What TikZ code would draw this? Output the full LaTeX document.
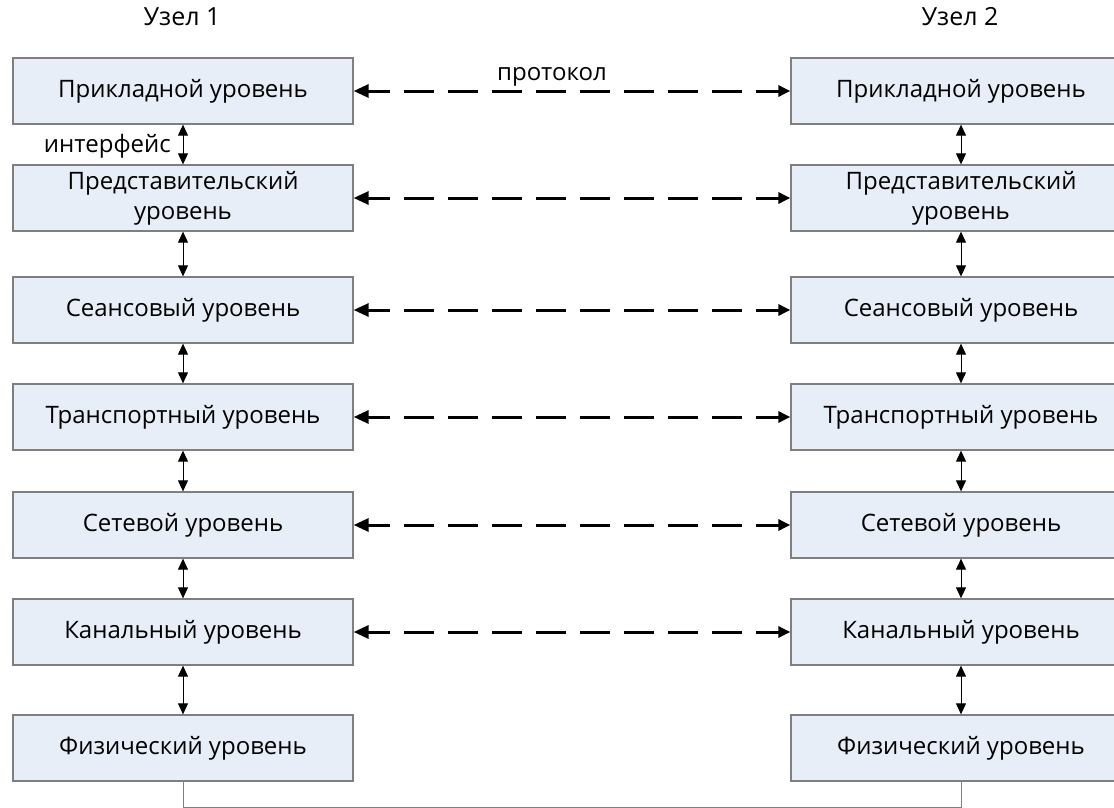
\documentclass[tikz,border=0pt]{standalone}
\usepackage{fontspec}
\setmainfont{Open Sans}
\usetikzlibrary{arrows.meta}
\definecolor{layerfill}{HTML}{E8EEF7}
\definecolor{layerdraw}{HTML}{7F7F7F}
\tikzset{
  layer/.style={draw=layerdraw, line width=1.3pt, fill=layerfill,
    minimum width=340pt, minimum height=66pt, inner sep=2pt,
    align=center, font=\fontsize{24}{30}\selectfont},
  iface/.style={line width=1pt, {Triangle[length=11pt,width=10pt]}-{Triangle[length=11pt,width=10pt]}},
  proto/.style={line width=3pt, dash pattern=on 30pt off 14pt, dash phase=8pt,
    {Triangle[length=15pt,width=13pt]}-{Triangle[length=12pt,width=11pt]}},
  lbl/.style={font=\fontsize{24}{28}\selectfont, inner sep=1pt},
  head/.style={font=\fontsize{25}{28}\selectfont, inner sep=1pt},
  wire/.style={line width=1pt, draw=layerdraw}
}
\begin{document}
\begin{tikzpicture}[x=1pt, y=-1pt]
\useasboundingbox (0,0) rectangle (1114,808);
\fill[white] (0,0) rectangle (1114,808);

\node[head] (h1) at (182,17) {Узел 1};
\node[head] (h2) at (960,17) {Узел 2};

% two stacks of seven layers
\foreach \i/\y/\t in {1/91/Прикладной уровень,
                      2/198/Представительский\\уровень,
                      3/310/Сеансовый уровень,
                      4/417/Транспортный уровень,
                      5/525/Сетевой уровень,
                      6/632/Канальный уровень,
                      7/748/Физический уровень}{
  \node[layer] (L\i) at (183,\y) {\t};
  \node[layer] (R\i) at (961,\y) {\t};
}

% interfaces between adjacent layers
\foreach \i [evaluate=\i as \j using int(\i+1)] in {1,...,6}{
  \draw[iface] (L\i.south) -- (L\j.north);
  \draw[iface] (R\i.south) -- (R\j.north);
}

% peer-to-peer protocols
\foreach \i in {1,...,6}{
  \draw[proto] (L\i.east) -- (R\i.west);
}

\node[lbl, anchor=south] (pl) at (552,87) {протокол};
\node[lbl, anchor=east] (il) at (172,146) {интерфейс};

% physical medium
\coordinate (bl) at (183,807);
\coordinate (br) at (961,807);
\draw[wire] (L7.south) -- (bl) -- (br) -- (R7.south);
\end{tikzpicture}
\end{document}
